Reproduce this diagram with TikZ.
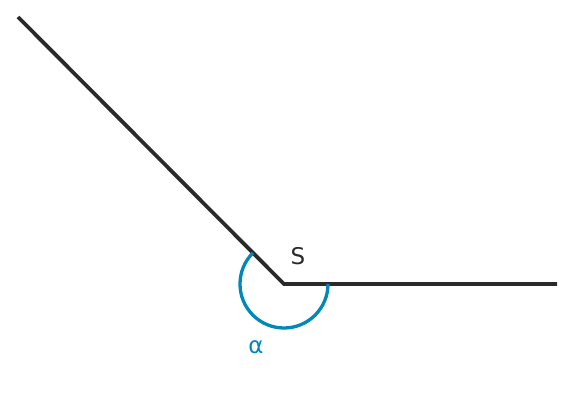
\documentclass[tikz,border=0pt]{standalone}
\usepackage{fontspec}
\setmainfont{DejaVu Sans}
\usepackage{xcolor}
\definecolor{leg}{HTML}{2A2A2A}
\definecolor{angblue}{HTML}{0088B9}
\usetikzlibrary{positioning}
\begin{document}
\begin{tikzpicture}[x=1pt,y=1pt,
leg/.style={draw=leg,line width=3.8pt},
anglemark/.style={draw=angblue,line width=3.3pt},
lbl/.style={font=\fontsize{23}{23}\selectfont,inner sep=0pt}]
\useasboundingbox (0,0) rectangle (576,400);
\coordinate (S) at (284,116);
\coordinate (A) at (18,383);
\coordinate (B) at (557,116);
\draw[leg] (A) -- (S) -- (B);
\draw[anglemark] ([shift={(135:44)}]S) arc[start angle=135,end angle=360,radius=44];
\node[lbl,text=leg] (Slabel) at (298,144) {S};
\node[lbl,text=angblue] (alpha) at (256,53) {α};
\end{tikzpicture}
\end{document}
